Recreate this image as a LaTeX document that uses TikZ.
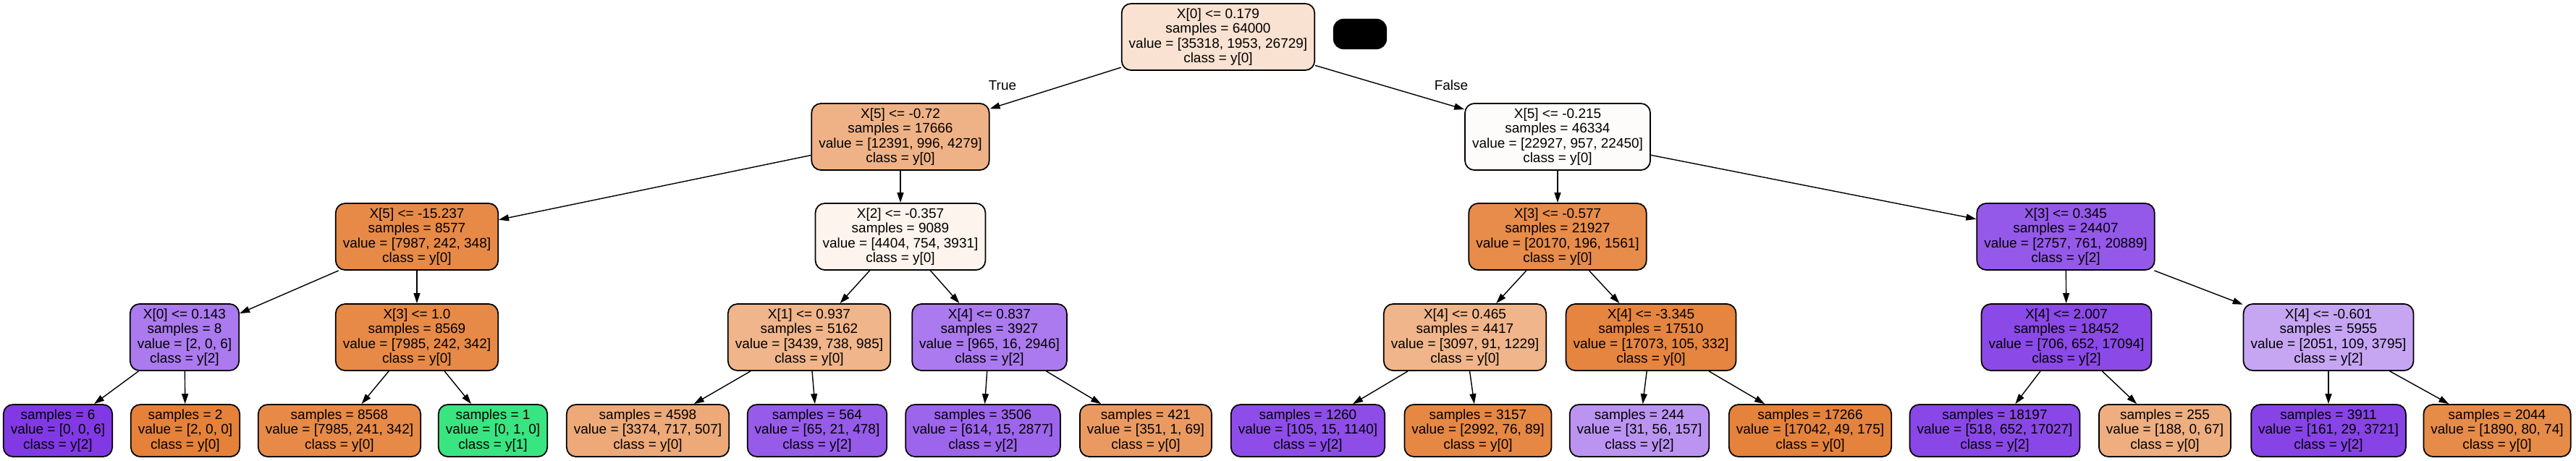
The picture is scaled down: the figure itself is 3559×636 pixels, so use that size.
\documentclass[tikz,border=0pt]{standalone}
\usepackage{fontspec}
\setmainfont{Liberation Sans}
\usepackage{tikz}
\usepackage{xcolor}
\usetikzlibrary{arrows.meta}

\definecolor{cls0}{RGB}{229,129,57}
\definecolor{cls1}{RGB}{57,229,129}
\definecolor{cls2}{RGB}{129,57,229}

\begin{document}
\begin{tikzpicture}[x=0.01cm, y=-0.01cm,
    treebox/.style={draw, line width=0.5pt, rounded corners=0.13cm, align=center,
        inner xsep=0.1cm, inner ysep=0pt, font=\fontsize{5.4}{5.85}\selectfont},
    testnode/.style={treebox, minimum height=0.92cm},
    leafnode/.style={treebox, minimum height=0.72cm},
    branch/.style={line width=0.4pt, -{Triangle[length=0.14cm, width=0.09cm]}}]
    \useasboundingbox (0,0) rectangle (3559,636);

    % root and first split
    \node[testnode, fill=cls0!23!white] (n0) at (1683,51) {X[0] <= 0.179\\samples = 64000\\value = [35318, 1953, 26729]\\class = y[0]};
    \node[fill=black, rounded corners=0.14cm, minimum width=0.74cm, minimum height=0.42cm, inner sep=0pt] (blob) at (1879,47) {};
    \node[font=\fontsize{5.4}{5.85}\selectfont] (lbltrue) at (1385,118) {True};
    \node[font=\fontsize{5.4}{5.85}\selectfont] (lblfalse) at (2005,118) {False};

    \node[testnode, fill=cls0!61!white] (n1) at (1244,189) {X[5] <= -0.72\\samples = 17666\\value = [12391, 996, 4279]\\class = y[0]};
    \node[testnode, fill=cls0!2!white] (n16) at (2152,189) {X[5] <= -0.215\\samples = 46334\\value = [22927, 957, 22450]\\class = y[0]};

    % depth 2
    \node[testnode, fill=cls0!93!white] (n2) at (576,327) {X[5] <= -15.237\\samples = 8577\\value = [7987, 242, 348]\\class = y[0]};
    \node[testnode, fill=cls0!9!white] (n9) at (1244,327) {X[2] <= -0.357\\samples = 9089\\value = [4404, 754, 3931]\\class = y[0]};
    \node[testnode, fill=cls0!91!white] (n17) at (2152,327) {X[3] <= -0.577\\samples = 21927\\value = [20170, 196, 1561]\\class = y[0]};
    \node[testnode, fill=cls2!84!white] (n24) at (2854,327) {X[3] <= 0.345\\samples = 24407\\value = [2757, 761, 20889]\\class = y[2]};

    % depth 3
    \node[testnode, fill=cls2!67!white] (n3) at (255,466) {X[0] <= 0.143\\samples = 8\\value = [2, 0, 6]\\class = y[2]};
    \node[testnode, fill=cls0!93!white] (n6) at (576,466) {X[3] <= 1.0\\samples = 8569\\value = [7985, 242, 342]\\class = y[0]};
    \node[testnode, fill=cls0!59!white] (n10) at (1118,466) {X[1] <= 0.937\\samples = 5162\\value = [3439, 738, 985]\\class = y[0]};
    \node[testnode, fill=cls2!67!white] (n13) at (1367,466) {X[4] <= 0.837\\samples = 3927\\value = [965, 16, 2946]\\class = y[2]};
    \node[testnode, fill=cls0!59!white] (n18) at (2024,466) {X[4] <= 0.465\\samples = 4417\\value = [3097, 91, 1229]\\class = y[0]};
    \node[testnode, fill=cls0!97!white] (n21) at (2281,466) {X[4] <= -3.345\\samples = 17510\\value = [17073, 105, 332]\\class = y[0]};
    \node[testnode, fill=cls2!92!white] (n25) at (2855,466) {X[4] <= 2.007\\samples = 18452\\value = [706, 652, 17094]\\class = y[2]};
    \node[testnode, fill=cls2!45!white] (n28) at (3217,466) {X[4] <= -0.601\\samples = 5955\\value = [2051, 109, 3795]\\class = y[2]};

    % leaves
    \node[leafnode, fill=cls2] (n4) at (80,595) {samples = 6\\value = [0, 0, 6]\\class = y[2]};
    \node[leafnode, fill=cls0] (n5) at (256,595) {samples = 2\\value = [2, 0, 0]\\class = y[0]};
    \node[leafnode, fill=cls0!93!white] (n7) at (469,595) {samples = 8568\\value = [7985, 241, 342]\\class = y[0]};
    \node[leafnode, fill=cls1] (n8) at (681,595) {samples = 1\\value = [0, 1, 0]\\class = y[1]};
    \node[leafnode, fill=cls0!68!white] (n11) at (895,595) {samples = 4598\\value = [3374, 717, 507]\\class = y[0]};
    \node[leafnode, fill=cls2!83!white] (n12) at (1129,595) {samples = 564\\value = [65, 21, 478]\\class = y[2]};
    \node[leafnode, fill=cls2!78!white] (n14) at (1358,595) {samples = 3506\\value = [614, 15, 2877]\\class = y[2]};
    \node[leafnode, fill=cls0!80!white] (n15) at (1583,595) {samples = 421\\value = [351, 1, 69]\\class = y[0]};
    \node[leafnode, fill=cls2!90!white] (n19) at (1807,595) {samples = 1260\\value = [105, 15, 1140]\\class = y[2]};
    \node[leafnode, fill=cls0!95!white] (n20) at (2042,595) {samples = 3157\\value = [2992, 76, 89]\\class = y[0]};
    \node[leafnode, fill=cls2!54!white] (n22) at (2265,595) {samples = 244\\value = [31, 56, 157]\\class = y[2]};
    \node[leafnode, fill=cls0!99!white] (n23) at (2501,595) {samples = 17266\\value = [17042, 49, 175]\\class = y[0]};
    \node[leafnode, fill=cls2!93!white] (n26) at (2756,595) {samples = 18197\\value = [518, 652, 17027]\\class = y[2]};
    \node[leafnode, fill=cls0!64!white] (n27) at (2991,595) {samples = 255\\value = [188, 0, 67]\\class = y[0]};
    \node[leafnode, fill=cls2!95!white] (n29) at (3217,595) {samples = 3911\\value = [161, 29, 3721]\\class = y[2]};
    \node[leafnode, fill=cls0!92!white] (n30) at (3450,595) {samples = 2044\\value = [1890, 80, 74]\\class = y[0]};

    % branches
    \foreach \a/\b in {n0/n1, n0/n16, n1/n2, n1/n9, n16/n17, n16/n24,
        n2/n3, n2/n6, n9/n10, n9/n13, n17/n18, n17/n21, n24/n25, n24/n28,
        n3/n4, n3/n5, n6/n7, n6/n8, n10/n11, n10/n12, n13/n14, n13/n15,
        n18/n19, n18/n20, n21/n22, n21/n23, n25/n26, n25/n27, n28/n29, n28/n30}
        \draw[branch] (\a) -- (\b);
\end{tikzpicture}
\end{document}
